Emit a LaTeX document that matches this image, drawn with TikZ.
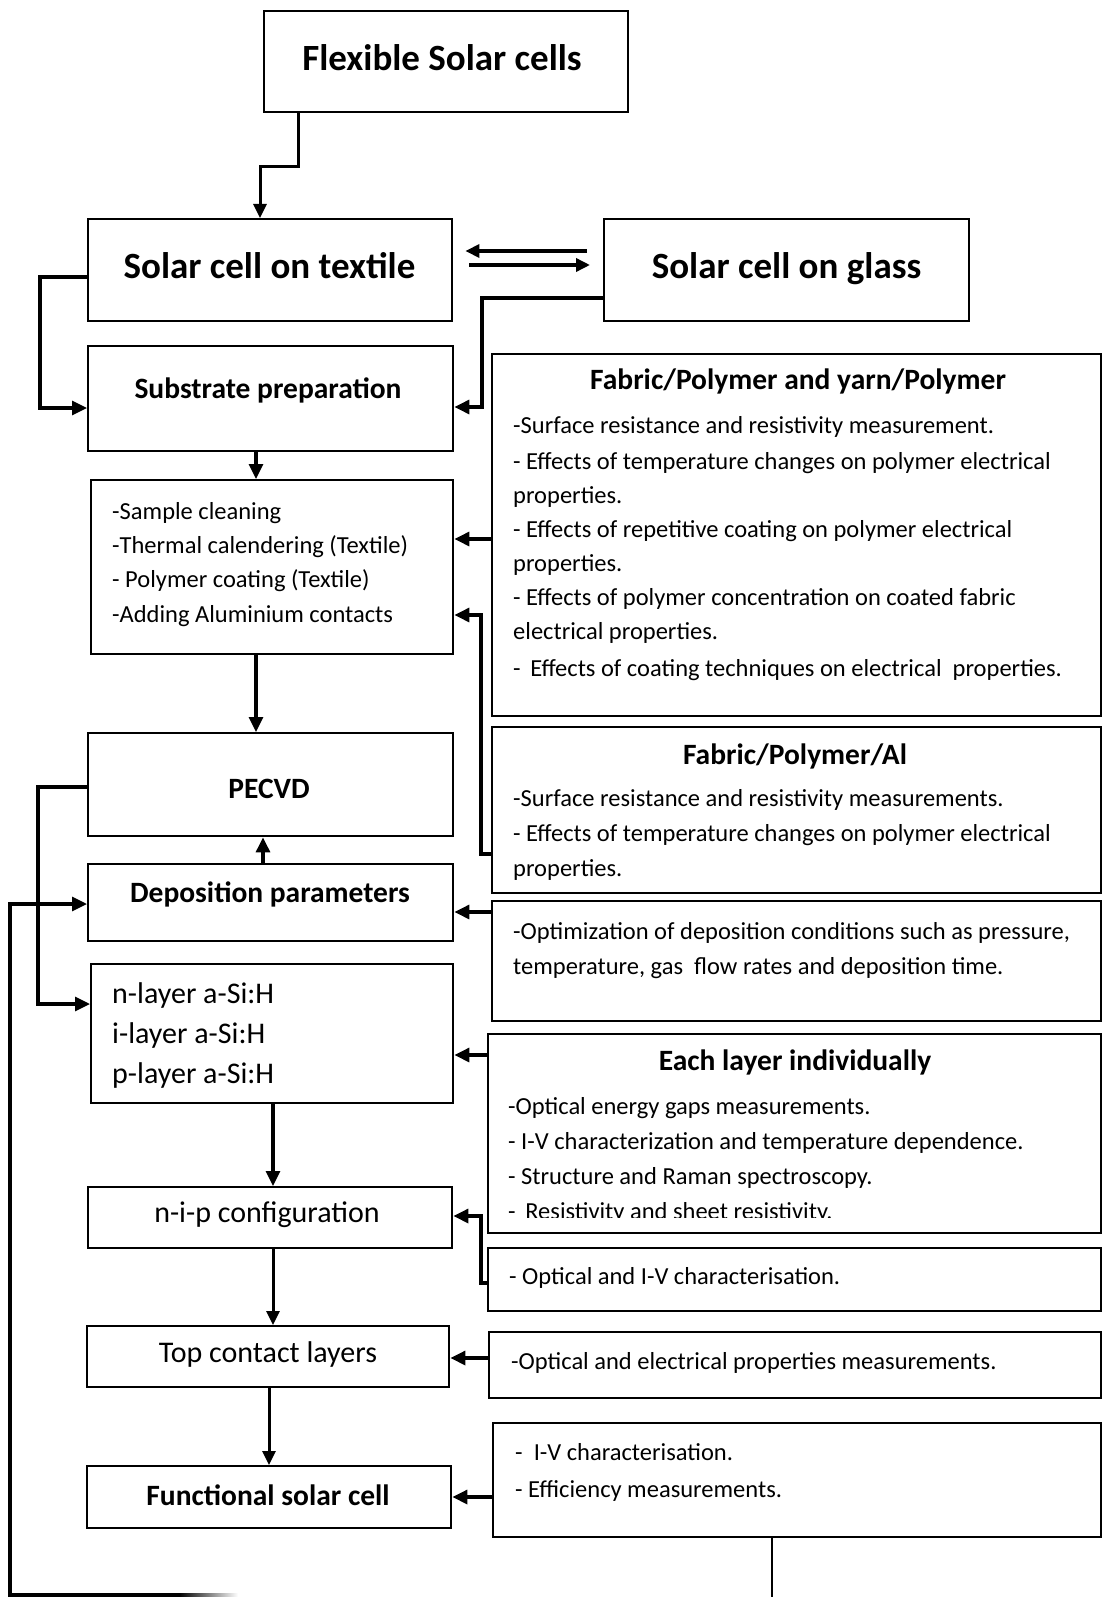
\documentclass[tikz,border=0pt]{standalone}
\usepackage{fontspec}
\setmainfont{Carlito}
\usetikzlibrary{arrows.meta}
\newcommand\myfirst{\rule{0pt}{24pt}}
\begin{document}
\begin{tikzpicture}[x=1pt,y=-1pt,
  box/.style={draw, line width=2.4pt, inner sep=0pt, anchor=north west},
  conn/.style={line width=3.2pt, line join=miter, -{Triangle[length=15pt,width=14pt]}},
  thinconn/.style={line width=3pt, line join=miter, -{Triangle[length=14pt,width=13pt]}},
  big/.style={font=\bfseries\fontsize{37}{44}\selectfont, inner sep=0pt, anchor=base},
  sub/.style={font=\bfseries\fontsize{29.5}{36}\selectfont, inner sep=0pt, anchor=base},
  mid/.style={font=\fontsize{30}{36}\selectfont, inner sep=0pt, anchor=base},
  body/.style={inner sep=0pt, anchor=north west, align=left, yshift=24pt},
]
\useasboundingbox (0,0) rectangle (1102,1597);
\fill[white] (0,0) rectangle (1102,1597);

% ---------- boxes ----------
\node[box, minimum width=364, minimum height=101] (flex) at (263,10) {};
\node[box, minimum width=364, minimum height=102] (textile) at (87,218) {};
\node[box, minimum width=365, minimum height=102] (glass) at (603,218) {};
\node[box, minimum width=365, minimum height=105] (substrate) at (87,345) {};
\node[box, minimum width=362, minimum height=174] (list) at (90,479) {};
\node[box, minimum width=365, minimum height=103] (pecvd) at (87,732) {};
\node[box, minimum width=365, minimum height=77] (depo) at (87,863) {};
\node[box, minimum width=362, minimum height=139] (layers) at (90,963) {};
\node[box, minimum width=364, minimum height=61] (nip) at (87,1186) {};
\node[box, minimum width=362, minimum height=61] (top) at (86,1325) {};
\node[box, minimum width=364, minimum height=62] (func) at (86,1465) {};
\node[box, minimum width=609, minimum height=362] (fab1) at (491,353) {};
\node[box, minimum width=609, minimum height=166] (fab2) at (491,726) {};
\node[box, minimum width=609, minimum height=120] (opt) at (491,900) {};
\node[box, minimum width=613, minimum height=199] (each) at (487,1033) {};
\node[box, minimum width=613, minimum height=63] (oiv) at (487,1247) {};
\node[box, minimum width=612, minimum height=66] (oe) at (488,1331) {};
\node[box, minimum width=608, minimum height=114] (last) at (492,1422) {};

% ---------- texts ----------
\node[big] (flexT) at (442,71) {Flexible Solar cells};
\node[big] (textT) at (269.5,279) {Solar cell on textile};
\node[big] (glassT) at (786.5,279) {Solar cell on glass};
\node[sub] (subT) at (268,398) {Substrate preparation};
\node[sub] (pecT) at (269,798) {PECVD};
\node[sub] (depT) at (270,902) {Deposition parameters};
\node[sub] (funcT) at (268,1505) {Functional solar cell};
\node[sub] (fab1T) at (798,389) {Fabric/Polymer and yarn/Polymer};
\node[sub] (fab2T) at (795,764) {Fabric/Polymer/Al};
\node[sub] (eachT) at (795,1070) {Each layer individually};
\node[mid] (nipT) at (267,1222) {n-i-p configuration};
\node[mid] (topT) at (268,1362) {Top contact layers};

\node[body, font=\fontsize{24.5}{34.3}\selectfont] (listB) at (112,519)
  {\myfirst-Sample cleaning\\-Thermal calendering (Textile)\\- Polymer coating (Textile)\\-Adding Aluminium contacts};
\node[body, font=\fontsize{30}{40}\selectfont] (layersB) at (112,1003)
  {\myfirst n-layer a-Si:H\\i-layer a-Si:H\\p-layer a-Si:H};
\node[body, font=\fontsize{24.5}{34}\selectfont] (fab1B) at (513,433)
  {\myfirst-Surface resistance and resistivity measurement.\\[2pt]
   - Effects of temperature changes on polymer electrical\\
   properties.\\
   - Effects of repetitive coating on polymer electrical\\
   properties.\\
   - Effects of polymer concentration on coated fabric\\
   electrical properties.\\[3pt]
   -\ \,Effects of coating techniques on electrical\ \ properties.};
\node[body, font=\fontsize{24.5}{35}\selectfont] (fab2B) at (513,806)
  {\myfirst-Surface resistance and resistivity measurements.\\
   - Effects of temperature changes on polymer electrical\\
   properties.};
\node[body, font=\fontsize{24.5}{35}\selectfont] (optB) at (513,939)
  {\myfirst-Optimization of deposition conditions such as pressure,\\
   temperature, gas\ \ flow rates and deposition time.};
\begin{scope}
\clip (480,1030) rectangle (1102,1217);
\node[body, font=\fontsize{24.5}{35}\selectfont] (eachB) at (508,1114)
  {\myfirst-Optical energy gaps measurements.\\
   - I-V characterization and temperature dependence.\\
   - Structure and Raman spectroscopy.\\
   -\ \,Resistivity and sheet resistivity.};
\end{scope}
\node[body, font=\fontsize{24.5}{35}\selectfont] (oivB) at (509,1284)
  {\myfirst- Optical and I-V characterisation.};
\node[body, font=\fontsize{24.5}{35}\selectfont] (oeB) at (511,1369)
  {\myfirst-Optical and electrical properties measurements.};
\node[body, font=\fontsize{24.5}{37}\selectfont] (lastB) at (515,1460)
  {\myfirst-\ \ I-V characterisation.\\- Efficiency measurements.};

% ---------- connectors ----------
\draw[thinconn] (flex.south -| 298,0) -- (298,167) -- (260,167) -- (textile.north -| 260,0);
\draw[thinconn, line width=3.4pt, shorten <=16pt, shorten >=12pt] (glass.west |- 0,251) -- (textile.east |- 0,251);
\draw[thinconn, line width=3.4pt, shorten <=16pt, shorten >=13pt] (textile.east |- 0,265) -- (glass.west |- 0,265);
\draw[conn] (textile.west |- 0,277) -- (40,277) -- (40,408) -- (substrate.west |- 0,408);
\draw[conn] (glass.west |- 0,298) -- (482,298) -- (482,407) -- (substrate.east |- 0,407);
\draw[conn] (substrate.south -| 256,0) -- (list.north -| 256,0);
\draw[conn] (fab1.west |- 0,539) -- (list.east |- 0,539);
\draw[conn] (fab2.west |- 0,854) -- (481,854) -- (481,615) -- (list.east |- 0,615);
\draw[conn] (list.south -| 256,0) -- (pecvd.north -| 256,0);
\draw[conn] (depo.north -| 263,0) -- (pecvd.south -| 263,0);
\draw[conn] (pecvd.west |- 0,787) -- (38,787) -- (38,1004) -- (layers.west |- 0,1004);
\draw[conn] (opt.west |- 0,912) -- (depo.east |- 0,912);
\draw[conn] (each.west |- 0,1055) -- (layers.east |- 0,1055);
\draw[conn] (layers.south -| 273,0) -- (nip.north -| 273,0);
\draw[conn] (oiv.west |- 0,1283) -- (481,1283) -- (481,1216) -- (nip.east |- 0,1216);
\draw[thinconn] (nip.south -| 273,0) -- (top.north -| 273,0);
\draw[conn] (oe.west |- 0,1358) -- (top.east |- 0,1358);
\draw[thinconn] (top.south -| 269,0) -- (func.north -| 269,0);
\draw[conn] (last.west |- 0,1497) -- (func.east |- 0,1497);
\draw[line width=2.6pt] (last.south -| 772,0) -- (772,1597);
\draw[conn] (180,1595) -- (10,1595) -- (10,904) -- (depo.west |- 0,904);
\shade[left color=black, right color=white] (179,1593.4) rectangle (238,1596.6);
\end{tikzpicture}
\end{document}
